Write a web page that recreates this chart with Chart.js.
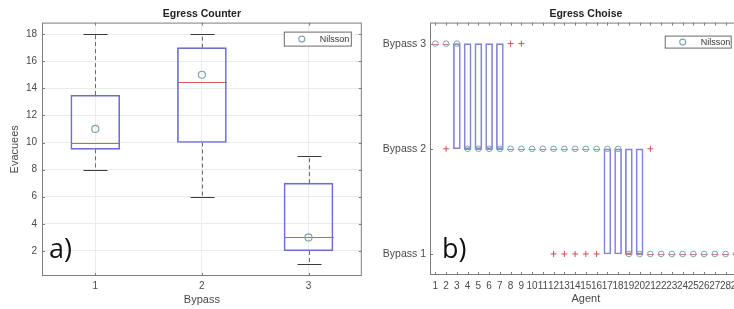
<!DOCTYPE html>
<html>
<head>
<meta charset="utf-8">
<script src="https://cdn.jsdelivr.net/npm/chart.js@4.4.1/dist/chart.umd.min.js"></script>
<style>
  html, body { margin: 0; padding: 0; background: #fff; overflow: hidden; }
  #wrap { position: relative; width: 734px; height: 309px; overflow: hidden; }
  .panel { position: absolute; top: 0; height: 309px; }
  #left { left: 0; width: 367px; }
  #right { left: 367px; width: 380px; }
</style>
</head>
<body>
<div id="wrap">
  <div class="panel" id="left"><canvas id="counter" width="367" height="309"></canvas></div>
  <div class="panel" id="right"><canvas id="choice" width="380" height="309"></canvas></div>
</div>
<script>
// Egress study: MATLAB-style boxplots, evacuees per bypass (a) and bypass choice per agent (b).
var bypassCats = [1, 2, 3];
var counterLow = [8, 6, 1];
var counterQ1 = [9.5, 10, 2];
var counterMedian = [10, 14.5, 3];
var counterQ3 = [13.5, 17, 7];
var counterHigh = [18, 18, 9];
var counterNilsson = [11, 15, 3];
var counterYTicks = [2, 4, 6, 8, 10, 12, 14, 16, 18];

var agents = [1, 2, 3, 4, 5, 6, 7, 8, 9, 10, 11, 12, 13, 14, 15, 16, 17, 18, 19, 20, 21, 22, 23, 24, 25, 26, 27, 28, 29];
var choiceQ1 = [3, 3, 2, 2, 2, 2, 2, 2, 2, 2, 2, 2, 2, 2, 2, 2, 1, 1, 1, 1, 1, 1, 1, 1, 1, 1, 1, 1, 1];
var choiceQ3 = [3, 3, 3, 3, 3, 3, 3, 2, 2, 2, 2, 2, 2, 2, 2, 2, 2, 2, 2, 2, 1, 1, 1, 1, 1, 1, 1, 1, 1];
var choiceMedian = [3, 3, 3, 2, 2, 2, 2, 2, 2, 2, 2, 2, 2, 2, 2, 2, 2, 2, 1, 1, 1, 1, 1, 1, 1, 1, 1, 1, 1];
var choiceNilsson = [3, 3, 3, 2, 2, 2, 2, 2, 2, 2, 2, 2, 2, 2, 2, 2, 2, 2, 1, 1, 1, 1, 1, 1, 1, 1, 1, 1, 1];
var outlierAgents = [2, 8, 9, 12, 13, 14, 15, 16, 21];
var outlierValues = [2, 3, 3, 1, 1, 1, 1, 1, 2];
var choiceYTicks = [1, 2, 3];
var choiceYLabels = ['Bypass 1', 'Bypass 2', 'Bypass 3'];

Chart.defaults.font.family = '"Liberation Sans", Arial, sans-serif';
Chart.defaults.color = '#4a4a4a';

var BOX_BLUE = '#6d6dd2';
var MEDIAN_RED = '#e05a5a';
var NILSSON = '#7fa2aa';

// frame, inward tick marks, legend box and panel letter
function decorPlugin(o) {
  return {
    id: 'decor',
    afterDraw: function (chart) {
      var ctx = chart.ctx, a = chart.chartArea;
      var xs = chart.scales.x, ys = chart.scales.y;
      ctx.save();
      ctx.strokeStyle = '#7d7d7d';
      ctx.lineWidth = 1;
      ctx.strokeRect(a.left + 0.5, a.top + 0.5, a.right - a.left - 1, a.bottom - a.top - 1);
      ctx.beginPath();
      xs.ticks.forEach(function (t) {
        var px = Math.round(xs.getPixelForValue(t.value)) + 0.5;
        ctx.moveTo(px, a.bottom); ctx.lineTo(px, a.bottom - 3);
        ctx.moveTo(px, a.top); ctx.lineTo(px, a.top + 3);
      });
      ys.ticks.forEach(function (t) {
        var py = Math.round(ys.getPixelForValue(t.value)) + 0.5;
        ctx.moveTo(a.left, py); ctx.lineTo(a.left + 3, py);
        ctx.moveTo(a.right, py); ctx.lineTo(a.right - 3, py);
      });
      ctx.stroke();

      // legend
      var lx = a.right - o.legRight - o.legW, ly = a.top + o.legTop;
      ctx.fillStyle = '#fff';
      ctx.fillRect(lx, ly, o.legW, o.legH);
      ctx.strokeStyle = '#6a6a6a';
      ctx.strokeRect(lx + 0.5, ly + 0.5, o.legW - 1, o.legH - 1);
      ctx.beginPath();
      ctx.strokeStyle = NILSSON;
      ctx.lineWidth = 1.1;
      ctx.arc(lx + 18, ly + o.legH / 2, 3, 0, Math.PI * 2);
      ctx.stroke();
      ctx.fillStyle = '#333';
      ctx.font = '9px "Liberation Sans", Arial, sans-serif';
      ctx.textBaseline = 'middle';
      ctx.fillText('Nilsson', lx + 36, ly + o.legH / 2 + 0.5);

      // panel letter
      ctx.fillStyle = '#111';
      ctx.font = '27px "Open Sans", "DejaVu Sans", sans-serif';
      ctx.textBaseline = 'alphabetic';
      ctx.fillText(o.letter, o.letterX, o.letterY);
      ctx.restore();
    }
  };
}

// whiskers, caps and medians for the counter boxplot
var counterParts = {
  id: 'counterParts',
  beforeDatasetsDraw: function (chart) {
    var ctx = chart.ctx, xs = chart.scales.x, ys = chart.scales.y;
    ctx.save();
    bypassCats.forEach(function (c, i) {
      var px = Math.round(xs.getPixelForValue(c)) + 0.5;
      ctx.strokeStyle = '#6a6a6a';
      ctx.lineWidth = 1;
      ctx.setLineDash([4, 3]);
      ctx.beginPath();
      ctx.moveTo(px, ys.getPixelForValue(counterQ3[i]));
      ctx.lineTo(px, ys.getPixelForValue(counterHigh[i]));
      ctx.moveTo(px, ys.getPixelForValue(counterQ1[i]));
      ctx.lineTo(px, ys.getPixelForValue(counterLow[i]));
      ctx.stroke();
      ctx.setLineDash([]);
      ctx.strokeStyle = '#3c3c3c';
      ctx.beginPath();
      [counterHigh[i], counterLow[i]].forEach(function (v) {
        var py = Math.round(ys.getPixelForValue(v)) + 0.5;
        ctx.moveTo(px - 12, py); ctx.lineTo(px + 12, py);
      });
      ctx.stroke();
      ctx.strokeStyle = MEDIAN_RED;
      ctx.beginPath();
      var my = Math.round(ys.getPixelForValue(counterMedian[i])) + 0.5;
      ctx.moveTo(px - 24.5, my); ctx.lineTo(px + 24.5, my);
      ctx.stroke();
    });
    ctx.restore();
  }
};

// medians for the choice boxplot (collapsed boxes show only this line)
var choiceParts = {
  id: 'choiceParts',
  beforeDatasetsDraw: function (chart) {
    var ctx = chart.ctx, xs = chart.scales.x, ys = chart.scales.y;
    ctx.save();
    ctx.strokeStyle = 'rgba(200, 90, 110, 0.8)';
    ctx.lineWidth = 1;
    ctx.beginPath();
    agents.forEach(function (ag, i) {
      var px = xs.getPixelForValue(ag);
      var py = Math.round(ys.getPixelForValue(choiceMedian[i])) + 0.5;
      ctx.moveTo(px - 3.5, py); ctx.lineTo(px + 3.5, py);
    });
    ctx.stroke();
    ctx.restore();
  }
};

new Chart(document.getElementById('counter'), {
  type: 'bar',
  data: {
    datasets: [
      {
        type: 'scatter',
        label: 'Nilsson',
        data: bypassCats.map(function (c, i) { return { x: c, y: counterNilsson[i] }; }),
        pointStyle: 'circle',
        pointRadius: 3.5,
        pointBorderWidth: 1.2,
        pointBorderColor: NILSSON,
        pointBackgroundColor: 'rgba(0,0,0,0)'
      },
      {
        label: 'box',
        data: bypassCats.map(function (c, i) { return { x: c, y: [counterQ1[i], counterQ3[i]] }; }),
        barThickness: 49,
        borderWidth: 1,
        borderColor: BOX_BLUE,
        backgroundColor: 'rgba(0,0,0,0)',
        borderSkipped: false
      }
    ]
  },
  options: {
    responsive: false,
    animation: false,
    layout: { padding: { left: 0, right: 5, top: 0, bottom: 0 } },
    plugins: {
      legend: { display: false },
      tooltip: { enabled: false },
      title: {
        display: true, text: 'Egress Counter', fullSize: false,
        font: { size: 10.5, weight: 'bold' }, color: '#222',
        padding: { top: 8, bottom: 2 }
      }
    },
    scales: {
      x: {
        type: 'linear', min: 0.5, max: 3.5, offset: false,
        afterBuildTicks: function (s) { s.ticks = bypassCats.map(function (v) { return { value: v }; }); },
        afterFit: function (s) { s.height = 33; },
        ticks: { padding: 4, font: { size: 10 }, callback: function (v) { return String(v); } },
        grid: { color: '#ebebeb', drawTicks: false, offset: false },
        border: { display: false },
        title: { display: true, text: 'Bypass', font: { size: 11 }, color: '#4a4a4a', padding: { top: 0, bottom: 2 } }
      },
      y: {
        type: 'linear', min: 0.15, max: 18.85,
        afterBuildTicks: function (s) { s.ticks = counterYTicks.map(function (v) { return { value: v }; }); },
        afterFit: function (s) { s.width = 42; },
        ticks: { padding: 5, font: { size: 10 } },
        grid: { color: '#ebebeb', drawTicks: false },
        border: { display: false },
        title: { display: true, text: 'Evacuees', font: { size: 11 }, color: '#4a4a4a', padding: { top: 8, bottom: 0 } }
      }
    }
  },
  plugins: [counterParts, decorPlugin({ legRight: 10, legTop: 9, legW: 68, legH: 15, letter: 'a)', letterX: 49, letterY: 258 })]
});

new Chart(document.getElementById('choice'), {
  type: 'bar',
  data: {
    datasets: [
      {
        type: 'scatter',
        label: 'Nilsson',
        data: agents.map(function (ag, i) { return { x: ag, y: choiceNilsson[i] }; }),
        pointStyle: 'circle',
        pointRadius: 2.8,
        pointBorderWidth: 1,
        pointBorderColor: NILSSON,
        pointBackgroundColor: 'rgba(0,0,0,0)'
      },
      {
        type: 'scatter',
        label: 'outliers',
        data: outlierAgents.map(function (ag, i) { return { x: ag, y: outlierValues[i] }; }),
        pointStyle: 'cross',
        pointRadius: 3,
        pointBorderWidth: 1,
        pointBorderColor: '#d05050'
      },
      {
        label: 'box',
        data: agents.map(function (ag, i) { return { x: ag, y: [choiceQ1[i], choiceQ3[i]] }; })
          .filter(function (d) { return d.y[0] !== d.y[1]; }),
        barThickness: 7,
        borderWidth: 1,
        borderColor: '#8585d6',
        backgroundColor: 'rgba(0,0,0,0)',
        borderSkipped: false
      }
    ]
  },
  options: {
    responsive: false,
    animation: false,
    layout: { padding: { left: 0, right: 5, top: 0, bottom: 0 } },
    plugins: {
      legend: { display: false },
      tooltip: { enabled: false },
      title: {
        display: true, text: 'Egress Choise', fullSize: false,
        font: { size: 10.5, weight: 'bold' }, color: '#222',
        padding: { top: 8, bottom: 2 }
      }
    },
    scales: {
      x: {
        type: 'linear', min: 0.5, max: 29.5, offset: false,
        afterBuildTicks: function (s) { s.ticks = agents.map(function (v) { return { value: v }; }); },
        afterFit: function (s) { s.height = 34; },
        ticks: { padding: 5, font: { size: 10 }, autoSkip: false, maxRotation: 0, minRotation: 0,
                 callback: function (v) { return String(v); } },
        grid: { display: false, drawTicks: false, offset: false },
        border: { display: false },
        title: { display: true, text: 'Agent', font: { size: 11 }, color: '#4a4a4a', padding: { top: 0, bottom: 3 } }
      },
      y: {
        type: 'linear', min: 0.8, max: 3.2,
        afterBuildTicks: function (s) { s.ticks = choiceYTicks.map(function (v) { return { value: v }; }); },
        afterFit: function (s) { s.width = 63; },
        ticks: { padding: 4, font: { size: 10.5 },
                 callback: function (v) { return choiceYLabels[choiceYTicks.indexOf(v)]; } },
        grid: { display: false, drawTicks: false },
        border: { display: false }
      }
    }
  },
  plugins: [choiceParts, decorPlugin({ legRight: 10, legTop: 13, legW: 67, legH: 13, letter: 'b)', letterX: 75, letterY: 258 })]
});
</script>
</body>
</html>
